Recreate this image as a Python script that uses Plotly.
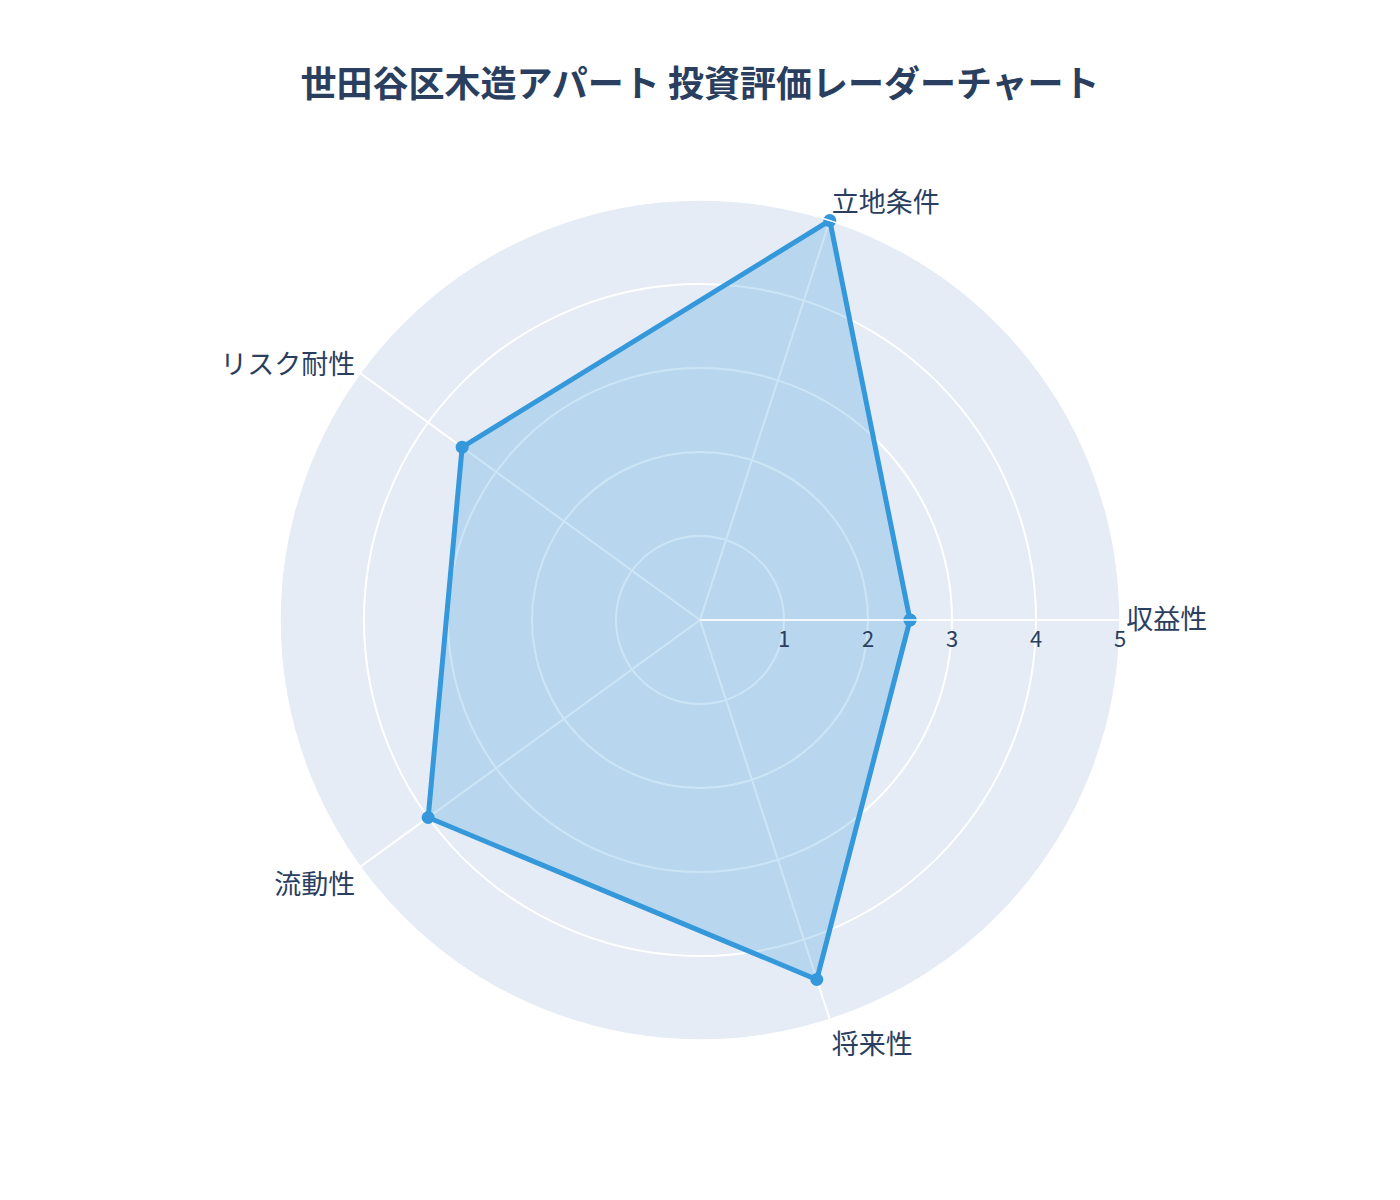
import plotly.graph_objects as go

categories = ['収益性', '立地条件', 'リスク耐性', '流動性', '将来性']
scores = [2.5, 5.0, 3.5, 4.0, 4.5]

# close the loop
r_vals = scores + scores[:1]
theta_vals = categories + categories[:1]

fig = go.Figure()

fig.add_trace(go.Scatterpolar(
    r=r_vals, theta=theta_vals,
    mode='lines+markers',
    fill='toself',
    fillcolor='rgba(52,152,219,0.25)',
    line=dict(color='#3498db', width=5),
    marker=dict(size=13, color='#3498db'),
    name='評価',
    showlegend=False,
))

fig.update_layout(
    title=dict(text='<b>世田谷区木造アパート 投資評価レーダーチャート</b>',
               x=0.5, y=0.936, xanchor='center', yanchor='middle',
               font=dict(size=36, color='#2a3f5f')),
    font=dict(family='Noto Sans CJK JP, sans-serif', size=20, color='#2a3f5f'),
    polar=dict(
        bgcolor='#E5ECF6',
        radialaxis=dict(visible=True, range=[0, 5], tickvals=[1, 2, 3, 4, 5],
                        angle=0, tickangle=0, gridcolor='white', gridwidth=1.5,
                        linecolor='white', linewidth=1.5,
                        showline=True, ticks='', tickfont=dict(size=22)),
        angularaxis=dict(direction='counterclockwise', rotation=0,
                         gridcolor='white', gridwidth=1.5,
                         linecolor='white', linewidth=1.5,
                         tickfont=dict(size=27), ticks=''),
    ),
    paper_bgcolor='white',
    width=1384, height=1200,
    margin=dict(l=80, r=80, t=192, b=168),
)

fig.write_html("out.html")
